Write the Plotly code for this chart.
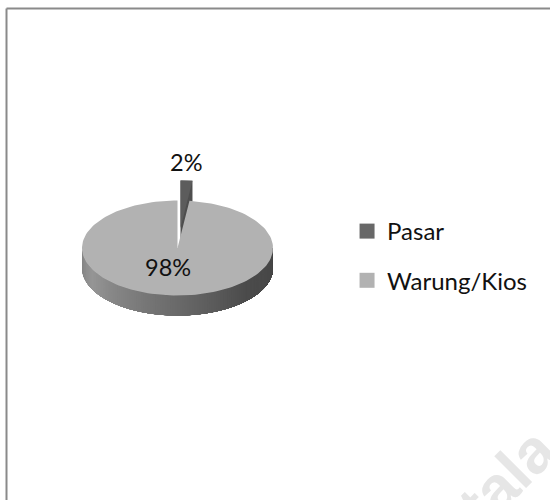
import numpy as np
import plotly.graph_objects as go

categories = ["Pasar", "Warung/Kios"]
shares = [2, 98]
top_colors = ["#686868", "#b2b2b2"]

CX, CY, RX, RY, DEPTH = 177.5, 248.0, 95.5, 47.5, 20.0
EXPLODE_DX, EXPLODE_DY = 3.0, -20.0
FONT = "Lato"
TEXT = "#111111"


def rim(a0, a1, cx=CX, cy=CY, n=160):
    """Points on the elliptical rim; angles are clockwise from 12 o'clock."""
    a = np.linspace(a0, a1, n)
    return cx + RX * np.sin(a), cy - RY * np.cos(a)


def poly(x, y, color):
    return go.Scatter(x=list(x), y=list(y), mode="lines", fill="toself", fillcolor=color,
                      line=dict(color=color, width=0), hoverinfo="skip", showlegend=False)


def wall_color(a):
    # lighter toward the left of the front wall, darker toward the right
    t = (a - np.pi / 2) / np.pi  # 0 at right, 1 at left
    v = int(np.interp(t, [0.0, 0.25, 0.55, 0.85, 1.0], [70, 76, 112, 150, 128]))
    return f"rgb({v},{v},{v})"


fig = go.Figure()

frac = np.cumsum([0] + shares) / sum(shares) * 2 * np.pi
a_small0, a_small1 = frac[0], frac[1]
a_big0, a_big1 = frac[1], frac[2]

# exploded small slice: extrusion then top face
ox, oy = CX + EXPLODE_DX, CY + EXPLODE_DY
sx, sy = rim(a_small0, a_small1, ox, oy, 30)
fig.add_trace(poly(
    np.r_[ox, sx, sx[-1], ox, ox],
    np.r_[oy, sy, sy[-1] + DEPTH, oy + DEPTH, oy],
    "#4e4e4e"))
fig.add_trace(poly(np.r_[ox, sx, ox], np.r_[oy, sy, oy], "#5c5c5c"))

# front wall of the large slice, gradient bands painted over one another from the left
edges = np.linspace(3 * np.pi / 2, np.pi / 2, 121)
for a0, a1 in zip(edges[:-1], edges[1:]):
    bx, by = rim(a0, np.pi / 2, n=40)
    fig.add_trace(poly(np.r_[bx, bx[::-1]], np.r_[by, by[::-1] + DEPTH], wall_color((a0 + a1) / 2)))

# top face of the large slice
bx, by = rim(a_big0, a_big1)
fig.add_trace(poly(np.r_[CX, bx, CX], np.r_[CY, by, CY], top_colors[1]))

# legend entries
for cat, col in zip(categories, top_colors):
    fig.add_trace(go.Scatter(x=[None], y=[None], mode="markers", name=cat, legendgroup=cat,
                             marker=dict(symbol="square", size=15, color=col)))

fig.add_annotation(x=186, y=162, text=f"{shares[0]}%", showarrow=False,
                   font=dict(family=FONT, size=23.5, color=TEXT))
fig.add_annotation(x=168, y=267, text=f"{shares[1]}%", showarrow=False,
                   font=dict(family=FONT, size=23.5, color=TEXT))
# faint page watermark in the corner
fig.add_annotation(x=506, y=477, text="<b>tala</b>", showarrow=False, textangle=-45,
                   font=dict(family="Liberation Sans", size=62, color="#e6e6e6"))

fig.update_layout(
    width=550, height=500, margin=dict(l=0, r=0, t=0, b=0),
    paper_bgcolor="white", plot_bgcolor="white",
    xaxis=dict(range=[0, 550], visible=False, fixedrange=True),
    yaxis=dict(range=[500, 0], visible=False, fixedrange=True),
    showlegend=True,
    legend=dict(x=0.631, y=0.488, xanchor="left", yanchor="middle", traceorder="grouped",
                tracegroupgap=15, itemwidth=30, bgcolor="rgba(0,0,0,0)",
                font=dict(family=FONT, size=24, color=TEXT)),
    shapes=[dict(type="line", xref="x", yref="y", x0=6.5, x1=6.5, y0=8.5, y1=500,
                 line=dict(color="#8a8a8a", width=2)),
            dict(type="line", xref="x", yref="y", x0=6.5, x1=550, y0=8.5, y1=8.5,
                 line=dict(color="#8a8a8a", width=2))],
)
fig.write_html("out.html", config={"displayModeBar": False},
               post_script="document.body.style.margin='0';document.body.style.overflow='hidden';")
